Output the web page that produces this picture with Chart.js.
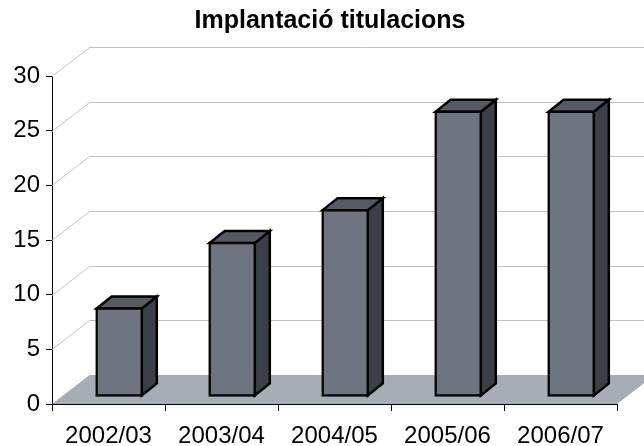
<!DOCTYPE html>
<html><head><meta charset="utf-8">
<style>html,body{margin:0;padding:0;background:#fff}#w{width:644px;height:446px;position:relative}</style>
<script src="https://cdn.jsdelivr.net/npm/chart.js@4"></script>
</head><body><div id="w"><canvas id="c" width="644" height="446"></canvas></div>
<script>
const categories = ["2002/03","2003/04","2004/05","2005/06","2006/07"];
const titulacions = [8,14,17,26,26];
const chartTitle = "Implantació titulacions";
const yTicks = [0,5,10,15,20,25,30];

const WALL = {dx:37.6, dy:29};
const BAR = {dx:10.7, dy:8, depthX:15, depthY:12, line:2.5};
const COL = {grid:"#bcc1ca", floor:"#a6adb6", front:"#6f7580", side:"#3b3f47", top:"#555a65"};
const TITLE_CX = 330;

function poly(ctx, pts, fill, stroke, lw){
  ctx.beginPath();
  pts.forEach((p,i)=> i?ctx.lineTo(p[0],p[1]):ctx.moveTo(p[0],p[1]));
  ctx.closePath();
  if(fill){ctx.fillStyle=fill;ctx.fill();}
  if(stroke){ctx.strokeStyle=stroke;ctx.lineWidth=lw;ctx.lineJoin="miter";ctx.stroke();}
}
const scene = {
  id:"scene",
  afterLayout(chart){
    const tb=chart.titleBlock;
    tb.left = 2*TITLE_CX - tb.right;
  },
  beforeDatasetsDraw(chart){
    const ctx=chart.ctx, y=chart.scales.y, a=chart.chartArea;
    ctx.save();
    const base=y.getPixelForValue(0);
    poly(ctx,[[a.left,base],[a.left+WALL.dx,base-WALL.dy],[a.right+WALL.dx,base-WALL.dy],[a.right,base]],COL.floor);
    ctx.strokeStyle=COL.grid; ctx.lineWidth=1;
    yTicks.filter(v=>v>0).forEach(v=>{
      const p=Math.round(y.getPixelForValue(v))+.5;
      ctx.beginPath();ctx.moveTo(a.left,p);ctx.lineTo(a.left+WALL.dx,p-WALL.dy);ctx.lineTo(a.right+WALL.dx,p-WALL.dy);ctx.stroke();
    });
    ctx.restore();
    ctx.save();
    ctx.translate(BAR.dx,-BAR.dy);
    chart.getDatasetMeta(0).data.forEach(b=>{
      const l=b.x-b.width/2, r=b.x+b.width/2, t=b.y, bt=b.base;
      poly(ctx,[[r,t],[r+BAR.depthX,t-BAR.depthY],[r+BAR.depthX,bt-BAR.depthY],[r,bt]],COL.side,"#000",BAR.line);
      poly(ctx,[[l,t],[l+BAR.depthX,t-BAR.depthY],[r+BAR.depthX,t-BAR.depthY],[r,t]],COL.top,"#000",BAR.line);
    });
  },
  afterDatasetsDraw(chart){ chart.ctx.restore(); }
};
new Chart(document.getElementById("c"),{
  type:"bar",
  data:{labels:categories,datasets:[{data:titulacions,backgroundColor:COL.front,borderColor:"#000",borderWidth:BAR.line,borderSkipped:false,inflateAmount:BAR.line/2,barPercentage:0.4,categoryPercentage:1,clip:false}]},
  plugins:[scene],
  options:{
    responsive:false,animation:false,
    layout:{padding:{left:0,right:27,top:0,bottom:0}},
    plugins:{
      legend:{display:false},tooltip:{enabled:false},
      title:{display:true,text:chartTitle,color:"#000",font:{family:"Liberation Sans",size:25,weight:"bold"},padding:{top:6,bottom:40}}
    },
    scales:{
      x:{ticks:{color:"#000",font:{family:"Liberation Sans",size:24},padding:11,maxRotation:0,autoSkip:false},
         grid:{drawOnChartArea:false,color:"#000",tickColor:"#000",tickLength:7},border:{color:"#000"},
         afterFit(s){s.height=42;}},
      y:{min:0,max:30,ticks:{stepSize:5,color:"#000",font:{family:"Liberation Sans",size:24},padding:6},
         grid:{drawOnChartArea:false,color:"#000",tickColor:"#000",tickLength:6},border:{color:"#000"},
         afterFit(s){s.width=52;}}
    }
  }
});
</script></body></html>
